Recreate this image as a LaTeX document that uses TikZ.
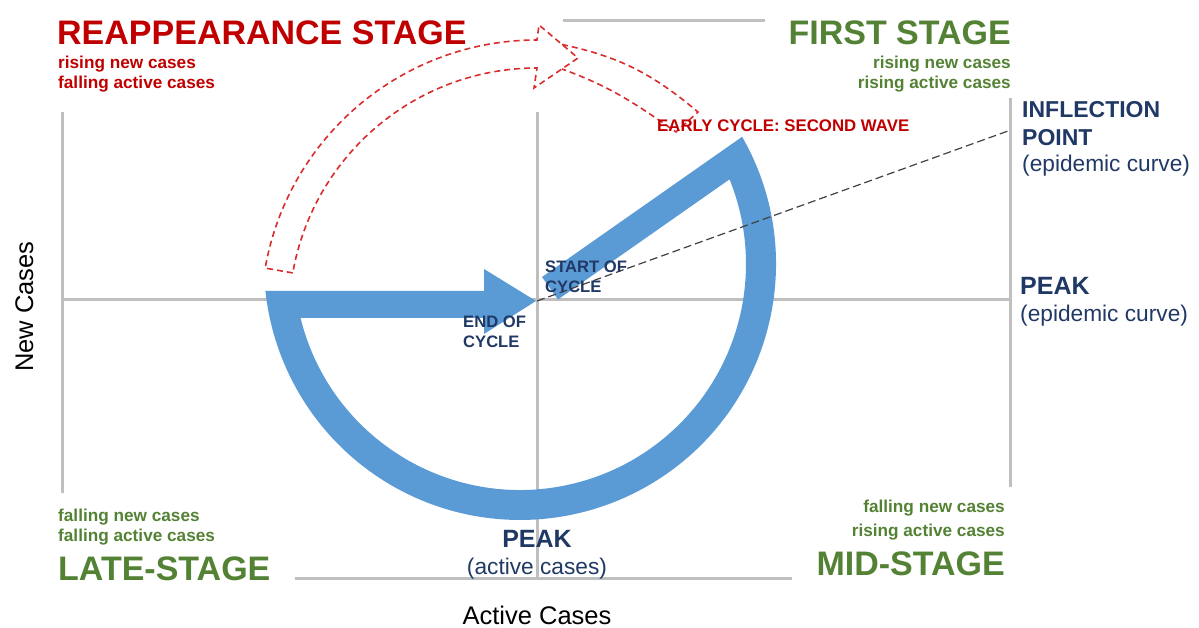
\documentclass[tikz,border=0pt]{standalone}
\usepackage{fontspec}
\setmainfont{Liberation Sans}
\definecolor{stagered}{HTML}{C00000}
\definecolor{stagegreen}{HTML}{548235}
\definecolor{labelnavy}{HTML}{203864}
\definecolor{ringblue}{HTML}{5B9BD5}
\definecolor{axisgray}{HTML}{BFBFBF}
\definecolor{dashred}{HTML}{DA2C2C}
\begin{document}
\begin{tikzpicture}[x=1pt, y=1pt,
  gline/.style={draw=axisgray, line width=3pt},
  stg/.style={inner sep=0pt, font=\bfseries\fontsize{34}{34}\selectfont},
  nte/.style={inner sep=0pt, font=\bfseries\fontsize{17.2}{17.2}\selectfont},
  pbold/.style={inner sep=0pt, text=labelnavy, font=\bfseries\fontsize{23}{23}\selectfont},
  preg/.style={inner sep=0pt, text=labelnavy, font=\fontsize{22.7}{22.7}\selectfont},
  cyc/.style={inner sep=0pt, text=labelnavy, font=\bfseries\fontsize{16.6}{16.6}\selectfont},
  axl/.style={inner sep=0pt, font=\fontsize{25.5}{25.5}\selectfont},
  rdash/.style={draw=dashred, line width=1.6pt, dash pattern=on 6pt off 4pt},
  kdash/.style={draw=black!75, line width=1.2pt, dash pattern=on 8pt off 4pt}]
\useasboundingbox (0,0) rectangle (1199,628);
\draw[gline] (62,328) -- (1010,328);
\draw[gline] (537,516) -- (537,49);
\draw[gline] (62,516) -- (62,135);
\draw[gline] (1010,530) -- (1010,141);
\draw[gline] (563,607) -- (765,607);
\draw[gline] (295,49) -- (792,49);
\coordinate (hub) at (520,364);
\fill[ringblue] (542,351) -- ([shift={(hub)}]29.8:256) arc[start angle=29.8, end angle=-173.95, radius=256] -- (484,337) -- (484,359) -- (536,327) -- (484,294) -- (484,310) -- ([shift={(hub)}]-166.2:226) arc[start angle=-166.2, end angle=22, radius=226] -- (558,328.5) -- cycle;
\coordinate (org) at (537,327);
\coordinate (infl) at (1008,497);
\draw[kdash] (org) -- (infl);
\coordinate (arch) at (537,312);
\draw[rdash] ([shift={(arch)}]170:248) -- ([shift={(arch)}]170:276) arc[start angle=170, end angle=90, radius=276] -- (539,603) -- (578,570) -- (534,540) -- ([shift={(arch)}]90:248) arc[start angle=90, end angle=170, radius=248] -- cycle;
\draw[rdash] (562,583.5) to[out=-12,in=140] (698,516) -- (676,496) to[out=145,in=-20] (562,559);
\node[stg, text=stagered, anchor=base west] (lid0) at (57,583) {REAPPEARANCE STAGE};
\node[nte, text=stagered, anchor=base west] (lid1) at (58,559) {rising new cases};
\node[nte, text=stagered, anchor=base west] (lid2) at (58,539) {falling active cases};
\node[stg, text=stagegreen, anchor=base east] (lid3) at (1011,583) {FIRST STAGE};
\node[nte, text=stagegreen, anchor=base east] (lid4) at (1011,559) {rising new cases};
\node[nte, text=stagegreen, anchor=base east] (lid5) at (1011,539) {rising active cases};
\node[pbold, anchor=base west] (lid6) at (1022,510) {INFLECTION};
\node[pbold, anchor=base west] (lid7) at (1022,482) {POINT};
\node[preg, anchor=base west] (lid8) at (1022,456) {(epidemic curve)};
\node[pbold, anchor=base west, font=\bfseries\fontsize{25}{25}\selectfont] (lid9) at (1020,333) {PEAK};
\node[preg, anchor=base west] (lid10) at (1020,306) {(epidemic curve)};
\node[cyc, anchor=base west] (lid11) at (545,355) {START OF};
\node[cyc, anchor=base west] (lid12) at (545,335) {CYCLE};
\node[cyc, anchor=base west] (lid13) at (463,300) {END OF};
\node[cyc, anchor=base west] (lid14) at (463,280) {CYCLE};
\node[cyc, text=stagered, anchor=base west, font=\bfseries\fontsize{16.8}{16.8}\selectfont] (lid15) at (657,496) {EARLY CYCLE: SECOND WAVE};
\node[nte, text=stagegreen, anchor=base west] (lid16) at (58,106) {falling new cases};
\node[nte, text=stagegreen, anchor=base west] (lid17) at (58,86) {falling active cases};
\node[stg, text=stagegreen, anchor=base west] (lid18) at (58,47) {LATE-STAGE};
\node[nte, text=stagegreen, anchor=base east] (lid19) at (1005,115) {falling new cases};
\node[nte, text=stagegreen, anchor=base east] (lid20) at (1005,91) {rising active cases};
\node[stg, text=stagegreen, anchor=base east] (lid21) at (1005,52) {MID-STAGE};
\node[pbold, anchor=base, font=\bfseries\fontsize{25}{25}\selectfont] (lid22) at (537,80) {PEAK};
\node[preg, anchor=base] (lid23) at (537,53) {(active cases)};
\node[axl, anchor=base] (lid24) at (537,3) {Active Cases};
\node[axl, rotate=90, anchor=base] (lid25) at (33,321.5) {New Cases};
\end{tikzpicture}
\end{document}
